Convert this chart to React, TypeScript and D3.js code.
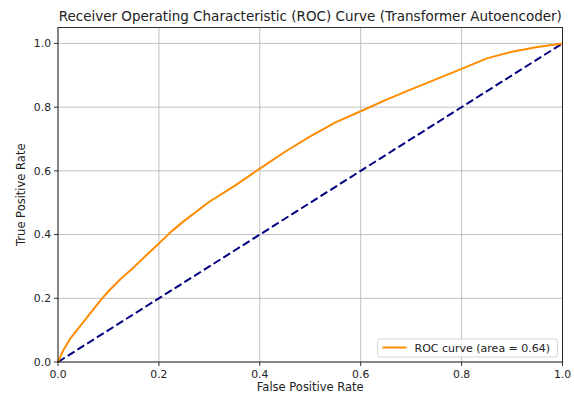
import React from 'react';
import * as d3 from 'd3';

// ROC curve points
const fpr = [0, 0.01, 0.025, 0.045, 0.065, 0.085, 0.1, 0.125, 0.15, 0.175, 0.2, 0.225, 0.25, 0.3, 0.35, 0.4, 0.45, 0.5, 0.55, 0.6, 0.65, 0.7, 0.75, 0.8, 0.85, 0.9, 0.95, 1.0];
const tpr = [0, 0.035, 0.075, 0.115, 0.155, 0.195, 0.222, 0.262, 0.297, 0.335, 0.372, 0.41, 0.443, 0.503, 0.553, 0.607, 0.66, 0.708, 0.752, 0.787, 0.823, 0.856, 0.888, 0.92, 0.953, 0.974, 0.989, 1.0];
const chanceLine = [0, 1];
const xTicks = [0, 0.2, 0.4, 0.6, 0.8, 1.0];
const yTicks = [0, 0.2, 0.4, 0.6, 0.8, 1.0];
const rocArea = 0.64;

const FONT = '"DejaVu Sans", Verdana, sans-serif';

export default function App() {
  const width = 574;
  const height = 394;
  const margin = { top: 27.5, right: 11.5, bottom: 32, left: 58 };
  const innerWidth = width - margin.left - margin.right;
  const innerHeight = height - margin.top - margin.bottom;

  const x = d3.scaleLinear().domain([0, 1]).range([0, innerWidth]);
  const y = d3.scaleLinear().domain([0, 1.05]).range([innerHeight, 0]);

  const points: [number, number][] = fpr.map((f, i) => [f, tpr[i]]);
  const line = d3
    .line<[number, number]>()
    .x((d) => x(d[0]))
    .y((d) => y(d[1]));

  const title = 'Receiver Operating Characteristic (ROC) Curve (Transformer Autoencoder)';

  return (
    <svg
      width={width}
      height={height}
      style={{ position: 'absolute', left: 0, top: 0, background: '#fff' }}
      fontFamily={FONT}
    >
      <g transform={`translate(${margin.left},${margin.top})`}>
        {/* grid */}
        {xTicks.map((t) => (
          <line key={'gx' + t} x1={x(t)} x2={x(t)} y1={0} y2={innerHeight} stroke="#b0b0b0" strokeWidth={0.8} />
        ))}
        {yTicks.map((t) => (
          <line key={'gy' + t} x1={0} x2={innerWidth} y1={y(t)} y2={y(t)} stroke="#b0b0b0" strokeWidth={0.8} />
        ))}

        {/* chance diagonal */}
        <line
          x1={x(chanceLine[0])}
          y1={y(chanceLine[0])}
          x2={x(chanceLine[1])}
          y2={y(chanceLine[1])}
          stroke="#000080"
          strokeWidth={2}
          strokeDasharray="8,3.5"
        />

        {/* ROC curve */}
        <path d={line(points) || ''} fill="none" stroke="#ff8c00" strokeWidth={2} strokeLinejoin="round" />

        {/* spines */}
        <rect x={0} y={0} width={innerWidth} height={innerHeight} fill="none" stroke="#000" strokeWidth={0.8} />

        {/* x ticks */}
        {xTicks.map((t) => (
          <g key={'tx' + t} transform={`translate(${x(t)},${innerHeight})`}>
            <line y1={0} y2={4} stroke="#000" strokeWidth={0.8} />
            <text y={16} textAnchor="middle" fontSize={10.8} fill="#222">
              {t.toFixed(1)}
            </text>
          </g>
        ))}
        {/* y ticks */}
        {yTicks.map((t) => (
          <g key={'ty' + t} transform={`translate(0,${y(t)})`}>
            <line x1={0} x2={-4} stroke="#000" strokeWidth={0.8} />
            <text x={-7} dy="0.35em" textAnchor="end" fontSize={10.8} fill="#222">
              {t.toFixed(1)}
            </text>
          </g>
        ))}

        {/* legend */}
        <g transform={`translate(${innerWidth - 185},${innerHeight - 23})`}>
          <rect x={0} y={0} width={180} height={18} rx={2.5} fill="#fff" fillOpacity={0.8} stroke="#cccccc" strokeWidth={0.8} />
          <line x1={5} x2={29} y1={8.5} y2={8.5} stroke="#ff8c00" strokeWidth={2} />
          <text x={37} y={13} fontSize={11} fill="#222">
            {`ROC curve (area = ${rocArea.toFixed(2)})`}
          </text>
        </g>
      </g>

      {/* title & axis labels */}
      <text x={margin.left + innerWidth / 2} y={21} textAnchor="middle" fontSize={13.5} fill="#222">
        {title}
      </text>
      <text x={margin.left + innerWidth / 2} y={391} textAnchor="middle" fontSize={11.5} fill="#222">
        False Positive Rate
      </text>
      <text
        transform={`translate(25,${margin.top + innerHeight / 2}) rotate(-90)`}
        textAnchor="middle"
        fontSize={11.5}
        fill="#222"
      >
        True Positive Rate
      </text>
    </svg>
  );
}
